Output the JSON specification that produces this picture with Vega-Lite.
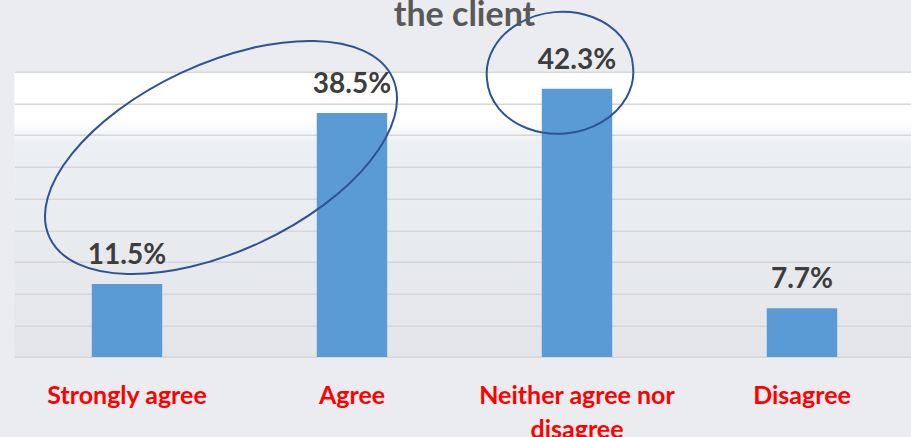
{
  "$schema": "https://vega.github.io/schema/vega-lite/v6.json",
  "width": 900,
  "height": 285.3,
  "autosize": {"type": "none"},
  "padding": {"left": 14.5, "top": 71.7, "right": 0, "bottom": 80},
  "background": "#eaecef",
  "config": {
    "font": "Lato",
    "view": {
      "stroke": null,
      "fill": {
        "gradient": "linear", "x1": 0, "y1": 0, "x2": 0, "y2": 1,
        "stops": [
          {"offset": 0, "color": "#ffffff"},
          {"offset": 0.17, "color": "#ffffff"},
          {"offset": 0.25, "color": "#edf0f3"},
          {"offset": 1, "color": "#e3e5e8"}
        ]
      }
    }
  },
  "title": {
    "text": "the client",
    "font": "Lato",
    "fontSize": 34,
    "fontWeight": "bold",
    "color": "#595959",
    "baseline": "alphabetic",
    "offset": -52,
    "anchor": "middle"
  },
  "datasets": {
    "bars": [
      {"response": "Strongly agree", "pct": 0.115},
      {"response": "Agree", "pct": 0.385},
      {"response": "Neither agree nor disagree", "pct": 0.423},
      {"response": "Disagree", "pct": 0.077}
    ],
    "notes": [
      {"response": "Strongly agree", "pct": 0.3147, "note": "A"},
      {"response": "Neither agree nor disagree", "pct": 0.4483, "note": "B"}
    ]
  },
  "encoding": {
    "x": {
      "field": "response",
      "type": "nominal",
      "sort": ["Strongly agree", "Agree", "Neither agree nor disagree", "Disagree"],
      "scale": {"paddingInner": 0.687, "paddingOuter": 0.3435},
      "axis": {
        "title": null,
        "labelAngle": 0,
        "ticks": false,
        "domain": false,
        "grid": false,
        "labelFont": "Lato",
        "labelFontSize": 25,
        "labelFontWeight": "bold",
        "labelColor": "#ff0000",
        "labelPadding": 26,
        "labelLineHeight": 34,
        "labelLimit": 400,
        "labelExpr": "datum.label == 'Neither agree nor disagree' ? ['Neither agree nor', 'disagree'] : datum.label"
      }
    },
    "y": {
      "field": "pct",
      "type": "quantitative",
      "scale": {"domain": [0, 0.45], "nice": false},
      "axis": {
        "title": null,
        "labels": false,
        "ticks": false,
        "domain": false,
        "grid": true,
        "values": [0, 0.05, 0.1, 0.15, 0.2, 0.25, 0.3, 0.35, 0.4, 0.45],
        "gridColor": "#d6d6d6",
        "gridWidth": 1.5
      }
    }
  },
  "layer": [
    {
      "data": {"name": "bars"},
      "mark": {"type": "bar", "color": "#5b9bd5"}
    },
    {
      "data": {"name": "bars"},
      "mark": {
        "type": "text",
        "baseline": "alphabetic",
        "dy": -20,
        "font": "Lato",
        "fontSize": 28,
        "fontWeight": "bold",
        "color": "#3d3d3d"
      },
      "encoding": {
        "text": {"field": "pct", "type": "quantitative", "format": ".1%"}
      }
    },
    {
      "data": {"name": "notes"},
      "transform": [{"filter": "datum.note == 'A'"}],
      "mark": {
        "type": "point",
        "shape": "M -77.5 79.9 A 189 93.5 -25 1 0 265.5 -79.9 A 189 93.5 -25 1 0 -77.5 79.9 Z",
        "size": 4,
        "filled": false,
        "fill": "transparent",
        "stroke": "#2e5395",
        "strokeWidth": 2,
        "opacity": 1
      }
    },
    {
      "data": {"name": "notes"},
      "transform": [{"filter": "datum.note == 'B'"}],
      "mark": {
        "type": "point",
        "shape": "M -90 6.4 A 73.3 59.5 -5 1 0 56 -6.4 A 73.3 59.5 -5 1 0 -90 6.4 Z",
        "size": 4,
        "filled": false,
        "fill": "transparent",
        "stroke": "#2e5395",
        "strokeWidth": 2,
        "opacity": 1
      }
    }
  ]
}
